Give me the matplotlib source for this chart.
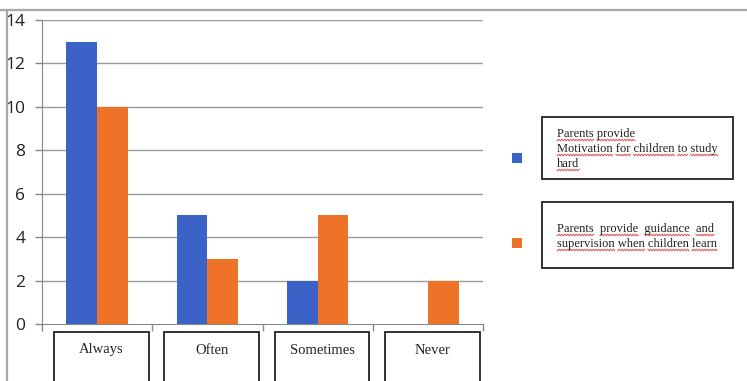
import numpy as np
import matplotlib
matplotlib.use("Agg")
import matplotlib.pyplot as plt
from matplotlib.patches import Rectangle

categories = ["Always", "Often", "Sometimes", "Never"]
series_names = [
    ["Parents provide", "Motivation for children to study", "hard"],
    ["Parents  provide  guidance  and", "supervision when children learn"],
]
motivation = [13, 5, 2, 0]
guidance = [10, 3, 5, 2]
y_ticks = [0, 2, 4, 6, 8, 10, 12, 14]

BLUE = "#3B63C7"
ORANGE = "#EE7227"
W, H = 747, 381

fig = plt.figure(figsize=(W / 100, H / 100), dpi=100)
fig.patch.set_facecolor("white")


def fx(px):
    return px / W


def fy(py):
    return 1 - py / H


# outer frame
fig.add_artist(plt.Line2D([0, 1], [fy(10), fy(10)], color="#a8a8a8", lw=1.6))
fig.add_artist(plt.Line2D([fx(7), fx(7)], [fy(10), 0], color="#a8a8a8", lw=1.6))

ax = fig.add_axes([fx(42), fy(324), fx(483) - fx(42), fy(20) - fy(324)])
x = np.arange(len(categories))
bw = 0.28
ax.bar(x - bw / 2, motivation, bw, color=BLUE, zorder=3)
ax.bar(x + bw / 2, guidance, bw, color=ORANGE, zorder=3)

ax.set_xlim(-0.5, len(categories) - 0.5)
ax.set_ylim(0, 14)
ax.set_yticks(y_ticks)
ax.set_yticklabels([str(v) for v in y_ticks], fontsize=12.5, family="Open Sans", color="#222222")
ax.tick_params(axis="y", length=5, width=1, color="#888888", pad=7)
for v in y_ticks[1:]:
    ax.axhline(v, color="#9a9a9a", lw=1, zorder=1)

ax.set_xticks(np.arange(len(categories) + 1) - 0.5)
ax.set_xticklabels([])
ax.tick_params(axis="x", length=5, width=1, color="#888888", direction="out")
for s in ["top", "right"]:
    ax.spines[s].set_visible(False)
ax.spines["left"].set_color("#888888")
ax.spines["bottom"].set_color("#888888")
ax.set_facecolor("none")

# category label boxes under the axis
trans = matplotlib.transforms.blended_transform_factory(ax.transData, fig.transFigure)
for i, c in enumerate(categories):
    cx = i + 0.04
    bwid = 0.86
    rect = Rectangle((cx - bwid / 2, fy(382)), bwid, fy(332) - fy(382), transform=trans,
                     fill=False, edgecolor="#222222", lw=1.3, clip_on=False)
    fig.add_artist(rect)
    fig.text(0, fy(350), c, transform=trans, fontsize=10.5, family="Liberation Serif",
             ha="center", va="center", color="#222222")
    fig.texts[-1].set_x(cx)

# legend markers and boxes
legend_boxes = [(542, 117, 733, 179), (542, 202, 733, 268)]
marker_y = [158, 243]
colors = [BLUE, ORANGE]
line_ys = [[134, 149, 164], [229, 244]]

fig.canvas.draw()
renderer = fig.canvas.get_renderer()


def wavy(x0, x1, y):
    xs = np.linspace(x0, x1, max(int((x1 - x0) * 1.5), 4))
    ys = y + 0.9 * np.sin(xs * 2.2)
    fig.add_artist(plt.Line2D(fx(xs), fy(ys), color="#d03030", lw=0.7, alpha=0.8))


for k in range(2):
    x0, y0, x1, y1 = legend_boxes[k]
    fig.add_artist(Rectangle((fx(x0), fy(y1)), fx(x1) - fx(x0), fy(y0) - fy(y1),
                             transform=fig.transFigure, fill=False, edgecolor="#222222", lw=1.3))
    fig.add_artist(Rectangle((fx(512), fy(marker_y[k] + 5)), fx(10), fy(0) - fy(10) + 0 * 0,
                             transform=fig.transFigure, color=colors[k], lw=0))
    for line, ly in zip(series_names[k], line_ys[k]):
        t = fig.text(fx(557), fy(ly), line, fontsize=9, family="Liberation Serif",
                     ha="left", va="center", color="#222222")
        # red underline under each word
        pos = 0
        for word in line.split():
            idx = line.index(word, pos)
            pre = fig.text(0, 0, line[:idx], fontsize=9, family="Liberation Serif")
            wt = fig.text(0, 0, word, fontsize=9, family="Liberation Serif")
            pre_w = pre.get_window_extent(renderer).width if idx > 0 else 0
            w_w = wt.get_window_extent(renderer).width
            pre.remove()
            wt.remove()
            wavy(557 + pre_w, 557 + pre_w + w_w, ly + 6)
            pos = idx + len(word)

fig.savefig("out.png", dpi=100, facecolor="white")
